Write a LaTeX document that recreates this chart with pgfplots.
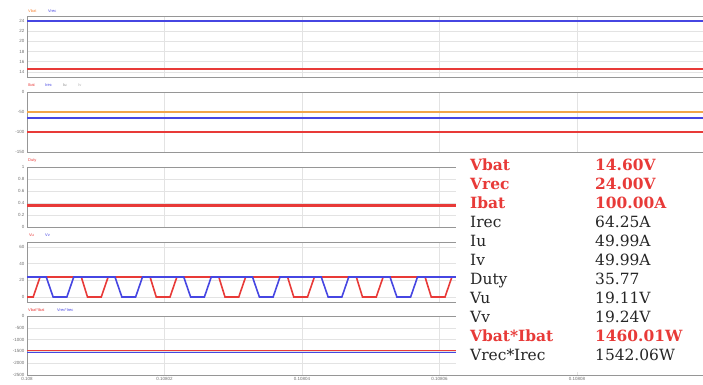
\documentclass[border=0pt]{standalone}
\usepackage{pgfplots}
\pgfplotsset{compat=1.18}
\usepackage{fontspec}
\setmainfont{Liberation Sans}
\newfontfamily\tabfont{DejaVu Serif}
\definecolor{cred}{RGB}{232,58,56}
\definecolor{cblue}{RGB}{70,70,226}
\definecolor{corange}{RGB}{242,166,72}
\definecolor{cyell}{RGB}{235,215,120}
\definecolor{pframe}{RGB}{150,150,150}
\definecolor{tickc}{RGB}{110,110,110}

\pgfplotsset{
 panel/.style={
  scale only axis, width=687.5bp, height=#1,
  xmin=0, xmax=100,
  xtick={0,20,40,60,80,100},
  xticklabels={},
  grid=major, major grid style={draw=gray!22, line width=0.5pt},
  axis line style={draw=pframe, line width=0.9pt},
  tick style={draw=none},
  tick label style={font=\fontsize{4.5}{5}\selectfont, text=tickc},
  /pgf/number format/assume math mode=true,
  /pgf/number format/1000 sep={},
  yticklabel style={inner sep=1pt, xshift=-1.5pt},
  anchor=north west,
 },
}

\begin{document}
\begin{tikzpicture}
\useasboundingbox (0,0) rectangle (703bp,385bp);

% Panel 1: voltages
\begin{axis}[panel=61bp, at={(27bp,369bp)}, ymin=13, ymax=25, ytick={14,16,18,20,22,24}]
\addplot[draw=cred, line width=1.6bp] coordinates {(0,14.6) (100,14.6)};
\addplot[draw=cblue, line width=1.6bp] coordinates {(0,24) (100,24)};
\end{axis}

% Panel 2: currents
\begin{axis}[panel=60bp, at={(27bp,293bp)}, ymin=-150, ymax=0, ytick={-150,-100,-50,0}]
\addplot[draw=cred, line width=1.6bp] coordinates {(0,-100) (100,-100)};
\addplot[draw=cblue, line width=2.2bp] coordinates {(0,-64.25) (100,-64.25)};
\addplot[draw=cyell, line width=1.6bp] coordinates {(0,-49.99) (100,-49.99)};
\addplot[draw=corange, line width=1.6bp] coordinates {(0,-49.99) (100,-49.99)};
\end{axis}

% Panel 3: duty
\begin{axis}[panel=60bp, at={(27bp,218bp)}, ymin=0, ymax=1, ytick={0,0.2,0.4,0.6,0.8,1}]
\addplot[draw=cred, line width=2.2bp] coordinates {(0,0.3577) (100,0.3577)};
\end{axis}

% Panel 4: phase voltages
\begin{axis}[panel=60bp, at={(27bp,143bp)}, ymin=-6, ymax=66, ytick={0,20,40,60}]
\addplot[draw=cred, line width=1.6bp] coordinates {
(0,0) (0.9,0) (1.9,24) (7.9,24) (8.8,0) (10.8,0) (11.8,24)
(17.9,24) (18.8,0) (20.8,0) (21.8,24)
(27.9,24) (28.8,0) (30.8,0) (31.8,24)
(37.9,24) (38.8,0) (40.8,0) (41.8,24)
(47.9,24) (48.8,0) (50.8,0) (51.8,24)
(57.9,24) (58.8,0) (60.8,0) (61.8,24)
(67.9,24) (68.8,0) (70.8,0) (71.8,24)
(77.9,24) (78.8,0) (80.8,0) (81.8,24)
(87.9,24) (88.8,0) (90.8,0) (91.8,24)
(97.9,24) (98.8,0) (100,0)};
\addplot[draw=cblue, line width=1.6bp] coordinates {
(0,24) (2.8,24) (3.8,0) (5.8,0) (6.8,24)
(12.8,24) (13.8,0) (15.8,0) (16.8,24)
(22.8,24) (23.8,0) (25.8,0) (26.8,24)
(32.8,24) (33.8,0) (35.8,0) (36.8,24)
(42.8,24) (43.8,0) (45.8,0) (46.8,24)
(52.8,24) (53.8,0) (55.8,0) (56.8,24)
(62.8,24) (63.8,0) (65.8,0) (66.8,24)
(72.8,24) (73.8,0) (75.8,0) (76.8,24)
(82.8,24) (83.8,0) (85.8,0) (86.8,24)
(92.8,24) (93.8,0) (95.8,0) (96.8,24) (100,24)};
\end{axis}

% Panel 5: power
\begin{axis}[panel=59bp, at={(27bp,69bp)}, ymin=-2500, ymax=0,
  ytick={-2500,-2000,-1500,-1000,-500,0},
  xticklabels={0.108,0.10802,0.10804,0.10806,0.10808,{}},
  xticklabel style={yshift=1pt},
  x axis line style={line width=1.2pt}]
\addplot[draw=cred, line width=1.6bp] coordinates {(0,-1460.01) (100,-1460.01)};
\addplot[draw=cblue, line width=1.6bp] coordinates {(0,-1542.06) (100,-1542.06)};
\end{axis}

% small legends
\begin{scope}[every node/.style={anchor=west, inner sep=0, font=\fontsize{4}{4}\selectfont}]
\node[text=corange!80!red] at (28bp,374bp) {Vbat};
\node[text=cblue] at (48bp,374bp) {Vrec};
\node[text=cred] at (28bp,299.5bp) {Ibat};
\node[text=cblue] at (45bp,299.5bp) {Irec};
\node[text=gray] at (63bp,299.5bp) {Iu};
\node[text=gray!60] at (78bp,299.5bp) {Iv};
\node[text=cred] at (28bp,224.5bp) {Duty};
\node[text=cred] at (29bp,149.5bp) {Vu};
\node[text=cblue] at (45bp,149.5bp) {Vv};
\node[text=cred] at (28bp,74.5bp) {Vbat*Ibat};
\node[text=cblue] at (57bp,74.5bp) {Vrec*Irec};
\end{scope}

% value table overlay
\fill[white] (456bp,13bp) rectangle (703bp,232bp);
\begin{scope}[every node/.style={anchor=base west, inner sep=0}]
\def\rfont{\tabfont\fontsize{15.5}{17}\selectfont}
\node[font=\rfont\bfseries, text=cred] at (470bp,214.5bp) {Vbat};
\node[font=\rfont\bfseries, text=cred] at (595bp,214.5bp) {14.60V};
\node[font=\rfont\bfseries, text=cred] at (470bp,195.5bp) {Vrec};
\node[font=\rfont\bfseries, text=cred] at (595bp,195.5bp) {24.00V};
\node[font=\rfont\bfseries, text=cred] at (470bp,176.5bp) {Ibat};
\node[font=\rfont\bfseries, text=cred] at (595bp,176.5bp) {100.00A};
\node[font=\rfont, text=black!85] at (470bp,157.5bp) {Irec};
\node[font=\rfont, text=black!85] at (595bp,157.5bp) {64.25A};
\node[font=\rfont, text=black!85] at (470bp,138.5bp) {Iu};
\node[font=\rfont, text=black!85] at (595bp,138.5bp) {49.99A};
\node[font=\rfont, text=black!85] at (470bp,119.5bp) {Iv};
\node[font=\rfont, text=black!85] at (595bp,119.5bp) {49.99A};
\node[font=\rfont, text=black!85] at (470bp,100.5bp) {Duty};
\node[font=\rfont, text=black!85] at (595bp,100.5bp) {35.77};
\node[font=\rfont, text=black!85] at (470bp,81.5bp) {Vu};
\node[font=\rfont, text=black!85] at (595bp,81.5bp) {19.11V};
\node[font=\rfont, text=black!85] at (470bp,62.5bp) {Vv};
\node[font=\rfont, text=black!85] at (595bp,62.5bp) {19.24V};
\node[font=\rfont\bfseries, text=cred] at (470bp,43.5bp) {Vbat*Ibat};
\node[font=\rfont\bfseries, text=cred] at (595bp,43.5bp) {1460.01W};
\node[font=\rfont, text=black!85] at (470bp,24.5bp) {Vrec*Irec};
\node[font=\rfont, text=black!85] at (595bp,24.5bp) {1542.06W};
\end{scope}
\end{tikzpicture}
\end{document}
